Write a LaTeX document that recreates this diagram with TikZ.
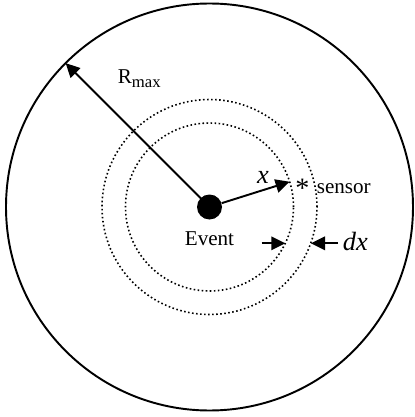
\documentclass[tikz,border=0pt]{standalone}
\usepackage{fontspec}
\setmainfont{Liberation Serif}
\usetikzlibrary{arrows.meta}

\begin{document}
\begin{tikzpicture}[x=1cm,y=1cm,>={Triangle[length=0.28cm,width=0.27cm]},
  arr/.style={->, line width=1.1pt},
  ring/.style={line width=0.9pt, dash pattern=on 0.9pt off 1.4pt},
  lbl/.style={font=\fontsize{12}{14}\selectfont, inner sep=0pt},
  var/.style={font=\fontsize{15}{17}\itshape, inner sep=0pt}]
\useasboundingbox (-4.19,-4.20) rectangle (4.09,4.14);
% detection region and the two rings at x and x+dx
\draw[line width=1.1pt] (0,0) circle (4.07);
\draw[ring] (0,0) circle (1.68);
\draw[ring] (0,0) circle (2.15);
\node[circle, fill, inner sep=0pt, minimum size=0.5cm] (event) at (0,0) {};
\node[lbl, anchor=base] (eventlbl) at (0,-0.76) {Event};
% radii
\coordinate (rmax) at (135:4.07);
\coordinate (xend) at (17.5:1.68);
\draw[arr] (event.center) -- (rmax);
\draw[arr] (event) -- (xend);
\node[lbl, anchor=base west] (rmaxlbl) at (-1.84,2.47)
  {R\raisebox{-0.45ex}{\fontsize{9.5}{10}\selectfont max}};
\node[var, anchor=base] (xlbl) at (1.07,0.46) {x};
\node[lbl, font=\fontsize{16}{18}\selectfont, anchor=base] (star) at (1.86,0.2) {*};
\node[lbl, anchor=base west] (sensor) at (2.14,0.28) {sensor};
% ring width
\coordinate (dxinA) at (1.04,-0.726);
\coordinate (dxinB) at (1.515,-0.726);
\coordinate (dxoutA) at (2.57,-0.726);
\coordinate (dxoutB) at (2.03,-0.726);
\draw[arr] (dxinA) -- (dxinB);
\draw[arr] (dxoutA) -- (dxoutB);
\node[var, anchor=base west] (dxlbl) at (2.66,-0.86) {dx};
\end{tikzpicture}
\end{document}
